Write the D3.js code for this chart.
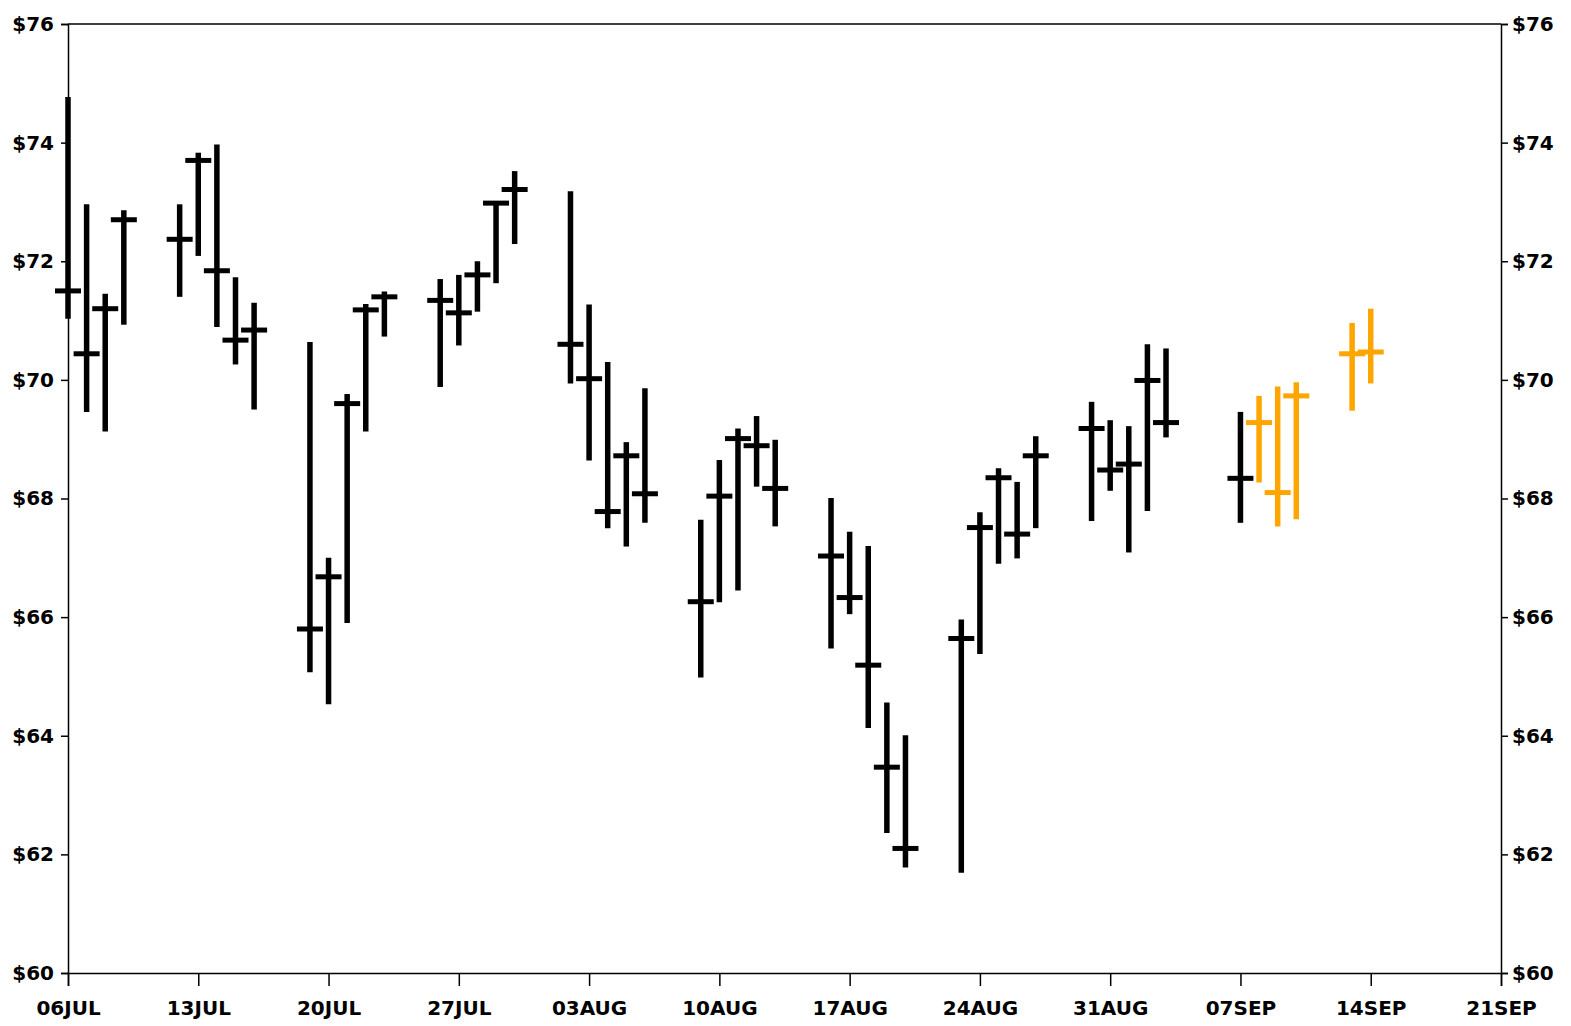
<!DOCTYPE html>
<html>
<head>
<meta charset="utf-8">
<script src="https://cdn.jsdelivr.net/npm/d3@7"></script>
<style>
  html, body { margin: 0; padding: 0; background: #fff; }
  svg text { font-family: "DejaVu Sans", sans-serif; font-weight: bold; font-size: 20px; fill: #000; }
</style>
</head>
<body>
<div id="chart"></div>
<script>
// actual prices (black)
const dates = [
  "2009-07-06", "2009-07-07", "2009-07-08", "2009-07-09",
  "2009-07-12", "2009-07-13", "2009-07-14", "2009-07-15", "2009-07-16",
  "2009-07-19", "2009-07-20", "2009-07-21", "2009-07-22", "2009-07-23",
  "2009-07-26", "2009-07-27", "2009-07-28", "2009-07-29", "2009-07-30",
  "2009-08-02", "2009-08-03", "2009-08-04", "2009-08-05", "2009-08-06",
  "2009-08-09", "2009-08-10", "2009-08-11", "2009-08-12", "2009-08-13",
  "2009-08-16", "2009-08-17", "2009-08-18", "2009-08-19", "2009-08-20",
  "2009-08-23", "2009-08-24", "2009-08-25", "2009-08-26", "2009-08-27",
  "2009-08-30", "2009-08-31", "2009-09-01", "2009-09-02", "2009-09-03",
  "2009-09-07"
]
const highs = [
  74.77, 72.96, 71.45, 72.86,
  72.96, 73.83, 73.97, 71.73, 71.30,
  70.64, 67.00, 69.76, 71.28, 71.49,
  71.70, 71.77, 72.00, 72.98, 73.52,
  73.18, 71.27, 70.30, 68.95, 69.86,
  67.64, 68.65, 69.18, 69.39, 68.99,
  68.01, 67.44, 67.20, 64.56, 64.01,
  65.96, 67.77, 68.51, 68.28, 69.05,
  69.63, 69.32, 69.22, 70.60, 70.53,
  69.46
]
const lows = [
  71.03, 69.46, 69.13, 70.93,
  71.40, 72.09, 70.89, 70.26, 69.50,
  65.07, 64.53, 65.90, 69.13, 70.73,
  69.88, 70.58, 71.15, 71.63, 72.29,
  69.94, 68.64, 67.50, 67.19, 67.59,
  64.98, 66.25, 66.45, 68.20, 67.53,
  65.47, 66.05, 64.13, 62.36, 61.78,
  61.69, 65.38, 66.90, 66.99, 67.50,
  67.62, 68.13, 67.09, 67.79, 69.03,
  67.59
]
const closes = [
  71.50, 70.44, 71.20, 72.70,
  72.37, 73.70, 71.84, 70.67, 70.84,
  65.80, 66.68, 69.60, 71.18, 71.40,
  71.34, 71.13, 71.77, 72.98, 73.21,
  70.60, 70.02, 67.78, 68.72, 68.08,
  66.26, 68.04, 69.01, 68.89, 68.17,
  67.03, 66.33, 65.19, 63.47, 62.10,
  65.64, 67.51, 68.35, 67.40, 68.72,
  69.18, 68.48, 68.58, 69.99, 69.28,
  68.34
]

// forecast prices (orange)
const fcDates = ["2009-09-08", "2009-09-09", "2009-09-10", "2009-09-13", "2009-09-14"]
const fcHighs = [69.73, 69.89, 69.96, 70.96, 71.20]
const fcLows = [68.27, 67.53, 67.65, 69.48, 69.94]
const fcCloses = [69.28, 68.10, 69.73, 70.44, 70.47]

const yTicks = [60, 62, 64, 66, 68, 70, 72, 74, 76]
const xStart = "2009-07-06"
const xEnd = "2009-09-21"

const width = 1571
const height = 1026
const plotLeft = 68, plotRight = 1501, plotTop = 24, plotBottom = 973

const parse = d3.utcParse("%Y-%m-%d")

const svg = d3.select("#chart")
  .append("svg")
  .attr("width", width)
  .attr("height", height)

svg.append("rect").attr("width", width).attr("height", height).attr("fill", "#fff")

const x = d3.scaleUtc()
  .domain([parse(xStart), parse(xEnd)])
  .range([plotLeft, plotRight])

const y = d3.scaleLinear()
  .domain([60, 76])
  .range([plotBottom, plotTop])

// frame top edge
svg.append("line")
  .attr("x1", plotLeft).attr("x2", plotRight)
  .attr("y1", plotTop).attr("y2", plotTop)
  .attr("stroke", "#000").attr("stroke-width", 1.5)

const fmtDate = d3.utcFormat("%d%b")
svg.append("g")
  .attr("transform", `translate(0,${plotBottom})`)
  .call(d3.axisBottom(x)
    .ticks(d3.utcMonday.every(1))
    .tickSize(13)
    .tickPadding(15)
    .tickFormat(d => fmtDate(d).toUpperCase()))

svg.append("g")
  .attr("transform", `translate(${plotLeft},0)`)
  .call(d3.axisLeft(y).tickValues(yTicks).tickSize(7).tickPadding(7).tickFormat(d => "$" + d))

svg.append("g")
  .attr("transform", `translate(${plotRight},0)`)
  .call(d3.axisRight(y).tickValues(yTicks).tickSize(7).tickPadding(4).tickFormat(d => "$" + d))

svg.selectAll(".domain").attr("stroke", "#000").attr("stroke-width", 1.5)
svg.selectAll(".tick line").attr("stroke", "#000").attr("stroke-width", 1.5)
svg.selectAll("g[font-family]").attr("font-family", null).attr("font-size", null)

// high-low bars with close tick
function drawBars(ds, hs, ls, cs, color) {
  const rows = ds.map((d, i) => ({ date: parse(d), high: hs[i], low: ls[i], close: cs[i] }))
  const bar = svg.append("g")
    .selectAll("g")
    .data(rows)
    .enter()
    .append("g")

  bar.append("line")
    .attr("x1", d => x(d.date)).attr("x2", d => x(d.date))
    .attr("y1", d => y(d.high)).attr("y2", d => y(d.low))
    .attr("stroke", color).attr("stroke-width", 5.5)

  bar.append("line")
    .attr("x1", d => x(d.date) - 13).attr("x2", d => x(d.date) + 13)
    .attr("y1", d => y(d.close)).attr("y2", d => y(d.close))
    .attr("stroke", color).attr("stroke-width", 5)
}

drawBars(dates, highs, lows, closes, "#000")
drawBars(fcDates, fcHighs, fcLows, fcCloses, "#FFA500")
</script>
</body>
</html>
